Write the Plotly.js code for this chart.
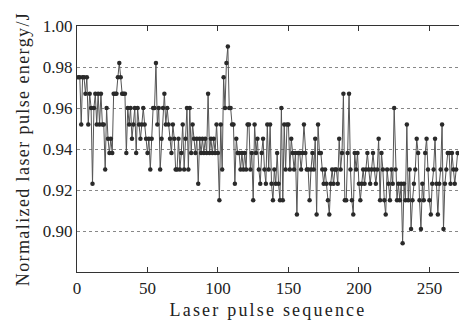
<!DOCTYPE html>
<html>
<head>
<meta charset="utf-8">
<script src="https://cdn.plot.ly/plotly-3.0.1.min.js"></script>
<style>html,body{margin:0;padding:0;background:#fff;}#chart{width:459px;height:320px;}</style>
</head>
<body>
<div id="chart"></div>
<script>
const energy = [
0.975,0.975,0.952,0.975,0.975,0.967,0.975,0.952,0.967,0.960,
0.923,0.960,0.967,0.952,0.967,0.952,0.967,0.952,0.952,0.930,
0.960,0.945,0.938,0.945,0.938,0.967,0.967,0.967,0.975,0.982,
0.975,0.967,0.967,0.967,0.938,0.960,0.952,0.960,0.945,0.952,
0.960,0.938,0.960,0.952,0.945,0.952,0.960,0.952,0.945,0.938,
0.945,0.930,0.945,0.960,0.960,0.982,0.952,0.960,0.930,0.945,
0.960,0.967,0.952,0.960,0.952,0.945,0.938,0.952,0.945,0.930,
0.930,0.945,0.930,0.938,0.952,0.930,0.945,0.960,0.930,0.960,
0.938,0.952,0.945,0.938,0.945,0.923,0.945,0.938,0.945,0.938,
0.945,0.938,0.967,0.938,0.945,0.938,0.945,0.938,0.952,0.938,
0.915,0.952,0.930,0.975,0.960,0.982,0.990,0.960,0.960,0.952,
0.952,0.923,0.945,0.938,0.938,0.930,0.938,0.930,0.938,0.930,
0.952,0.952,0.930,0.938,0.915,0.952,0.938,0.945,0.930,0.923,
0.938,0.945,0.930,0.923,0.952,0.930,0.952,0.923,0.915,0.930,
0.923,0.938,0.923,0.915,0.960,0.915,0.952,0.930,0.952,0.952,
0.930,0.945,0.938,0.930,0.938,0.908,0.938,0.938,0.930,0.938,
0.952,0.938,0.930,0.930,0.915,0.930,0.938,0.930,0.945,0.908,
0.952,0.938,0.938,0.930,0.923,0.930,0.923,0.915,0.908,0.923,
0.930,0.923,0.930,0.930,0.923,0.945,0.930,0.938,0.967,0.915,
0.915,0.938,0.967,0.930,0.915,0.908,0.938,0.930,0.938,0.923,
0.915,0.923,0.930,0.923,0.930,0.938,0.930,0.923,0.930,0.938,
0.930,0.923,0.930,0.945,0.915,0.938,0.930,0.915,0.908,0.930,
0.923,0.915,0.930,0.923,0.960,0.930,0.915,0.923,0.915,0.923,
0.894,0.923,0.915,0.952,0.915,0.930,0.901,0.915,0.923,0.930,
0.945,0.938,0.915,0.901,0.923,0.915,0.938,0.945,0.930,0.915,
0.908,0.923,0.930,0.945,0.923,0.908,0.923,0.930,0.952,0.901,
0.923,0.930,0.938,0.938,0.923,0.938,0.930,0.923,0.930,0.938
];
const pulseIndex = energy.map((v, i) => i + 1);
const yTickVals = [0.90, 0.92, 0.94, 0.96, 0.98, 1.00];
const yTickText = ["0.90", "0.92", "0.94", "0.96", "0.98", "1.00"];
const xTickVals = [0, 50, 100, 150, 200, 250];

const font = {family: '"Liberation Serif", "Times New Roman", serif', size: 17, color: '#222'};

Plotly.newPlot('chart', [{
  x: pulseIndex,
  y: energy,
  type: 'scatter',
  mode: 'lines+markers',
  line: {color: '#555', width: 1},
  marker: {color: '#2a2a2a', size: 4.5},
  hoverinfo: 'skip'
}], {
  width: 459, height: 320,
  margin: {l: 77, r: 0, t: 26, b: 48},
  paper_bgcolor: '#fff', plot_bgcolor: '#fff',
  font: font,
  showlegend: false,
  xaxis: {
    range: [0, 271],
    tickvals: xTickVals,
    ticks: 'inside', ticklen: 5, tickcolor: '#333',
    showline: true, linecolor: '#333', linewidth: 1.2,
    mirror: 'ticks',
    showgrid: false, zeroline: false,
    tickfont: font,
    title: {text: 'Laser pulse sequence', font: {family: font.family, size: 18, color: '#222'}, standoff: 11}
  },
  yaxis: {
    range: [0.88, 1.00],
    tickvals: yTickVals, ticktext: yTickText,
    ticks: '',
    showline: true, linecolor: '#333', linewidth: 1.2,
    showgrid: true, gridcolor: '#888', gridwidth: 1, griddash: '3px,3px',
    zeroline: false,
    tickfont: font,
    title: {text: 'Normalized laser pulse energy/J', font: {family: font.family, size: 18, color: '#222'}, standoff: 8}
  }
}, {staticPlot: true, displayModeBar: false}).then(() => {
  document.querySelectorAll('.xtitle').forEach(el => el.style.letterSpacing = '2.2px');
  document.querySelectorAll('.ytitle').forEach(el => el.style.letterSpacing = '1.4px');
});
</script>
</body>
</html>
